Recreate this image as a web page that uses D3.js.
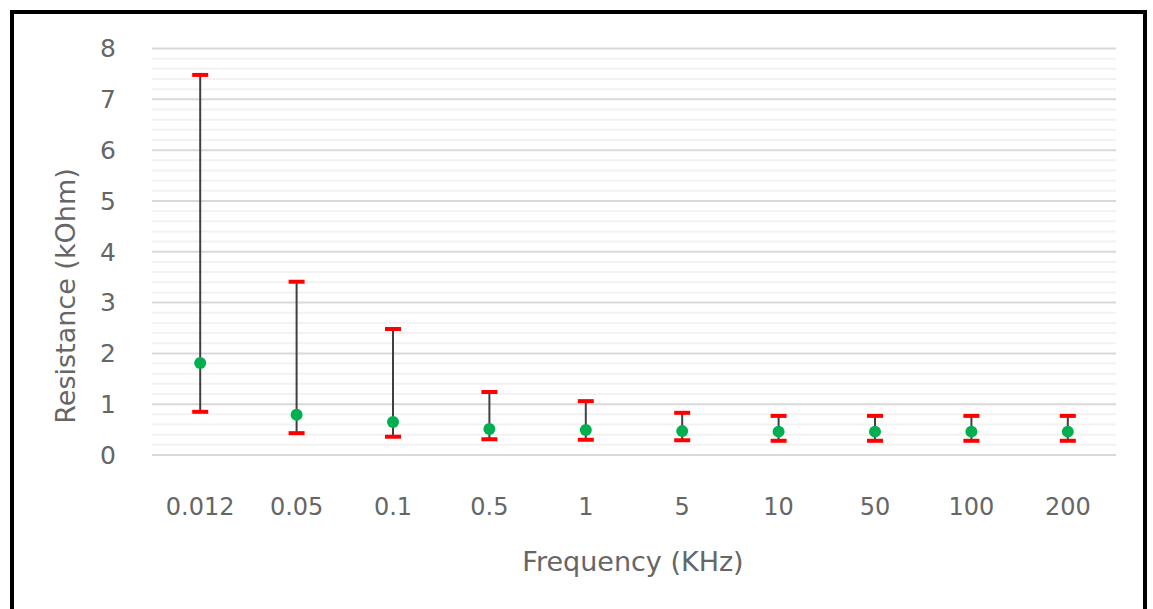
<!DOCTYPE html>
<html>
<head>
<meta charset="utf-8">
<script src="https://cdn.jsdelivr.net/npm/d3@7"></script>
<style>
  body { margin: 0; background: #fff; }
  text { font-family: "DejaVu Sans", "Noto Sans", sans-serif; fill: #666666; }
</style>
</head>
<body>
<div id="chart"></div>
<script>
/* chart data */
var frequencies = ["0.012", "0.05", "0.1", "0.5", "1", "5", "10", "50", "100", "200"]
var meanValues  = [1.81, 0.79, 0.65, 0.51, 0.49, 0.47, 0.46, 0.46, 0.46, 0.46]
var upperValues = [7.48, 3.41, 2.48, 1.24, 1.06, 0.83, 0.77, 0.77, 0.77, 0.77]
var lowerValues = [0.85, 0.43, 0.36, 0.31, 0.30, 0.29, 0.28, 0.28, 0.28, 0.28]
var yTicks = [0, 1, 2, 3, 4, 5, 6, 7, 8]

var width = 1153
    height = 609
    plot = { left: 152, right: 1116, top: 48.5, bottom: 455 }

var svg = d3.select("#chart")
  .append("svg")
  .attr("width", width)
  .attr("height", height)

/* outer frame */
svg.append("rect")
  .attr("x", 12)
  .attr("y", 12)
  .attr("width", 1133)
  .attr("height", 640)
  .attr("fill", "none")
  .attr("stroke", "#000")
  .attr("stroke-width", 4)

var x = d3.scaleBand()
  .domain(frequencies)
  .range([plot.left, plot.right])

var y = d3.scaleLinear()
  .domain([0, 8])
  .range([plot.bottom, plot.top])

/* minor gridlines every 0.2 */
var minorTicks = d3.range(0, 8.001, 0.2).filter(function(v) {
  return Math.abs(v - Math.round(v)) > 0.01
})

svg.append("g")
  .selectAll("line")
  .data(minorTicks)
  .enter()
  .append("line")
  .attr("x1", plot.left)
  .attr("x2", plot.right)
  .attr("y1", function(d) { return y(d) })
  .attr("y2", function(d) { return y(d) })
  .attr("stroke", "#f2f2f2")
  .attr("stroke-width", 2)

/* major gridlines */
svg.append("g")
  .selectAll("line")
  .data(yTicks)
  .enter()
  .append("line")
  .attr("x1", plot.left)
  .attr("x2", plot.right)
  .attr("y1", function(d) { return y(d) })
  .attr("y2", function(d) { return y(d) })
  .attr("stroke", "#d9d9d9")
  .attr("stroke-width", 2)

/* y tick labels */
svg.append("g")
  .selectAll("text")
  .data(yTicks)
  .enter()
  .append("text")
  .attr("x", 108)
  .attr("y", function(d) { return y(d) })
  .attr("dy", "0.35em")
  .attr("text-anchor", "middle")
  .style("font-size", "25px")
  .text(function(d) { return d })

/* x tick labels */
svg.append("g")
  .selectAll("text")
  .data(frequencies)
  .enter()
  .append("text")
  .attr("x", function(d) { return x(d) + x.bandwidth() / 2 })
  .attr("y", 507)
  .attr("dy", "0.35em")
  .attr("text-anchor", "middle")
  .style("font-size", "24px")
  .text(function(d) { return d })

/* axis titles */
svg.append("text")
  .attr("transform", "translate(66,296) rotate(-90)")
  .attr("text-anchor", "middle")
  .attr("dy", "0.35em")
  .style("font-size", "27px")
  .text("Resistance (kOhm)")

svg.append("text")
  .attr("x", 633)
  .attr("y", 562)
  .attr("dy", "0.35em")
  .attr("text-anchor", "middle")
  .style("font-size", "27px")
  .text("Frequency (KHz)")

/* error bars */
var cx = function(d, i) { return x(frequencies[i]) + x.bandwidth() / 2 }

var bars = svg.append("g")
  .selectAll("g")
  .data(frequencies)
  .enter()
  .append("g")

bars.append("line")
  .attr("x1", cx)
  .attr("x2", cx)
  .attr("y1", function(d, i) { return y(upperValues[i]) })
  .attr("y2", function(d, i) { return y(lowerValues[i]) })
  .attr("stroke", "#404040")
  .attr("stroke-width", 2)

bars.append("rect")
  .attr("x", function(d, i) { return cx(d, i) - 8 })
  .attr("y", function(d, i) { return y(upperValues[i]) - 2 })
  .attr("width", 16)
  .attr("height", 4)
  .attr("fill", "#ff0000")

bars.append("rect")
  .attr("x", function(d, i) { return cx(d, i) - 8 })
  .attr("y", function(d, i) { return y(lowerValues[i]) - 2 })
  .attr("width", 16)
  .attr("height", 4)
  .attr("fill", "#ff0000")

bars.append("circle")
  .attr("cx", cx)
  .attr("cy", function(d, i) { return y(meanValues[i]) })
  .attr("r", 6)
  .attr("fill", "#00b050")
</script>
</body>
</html>
